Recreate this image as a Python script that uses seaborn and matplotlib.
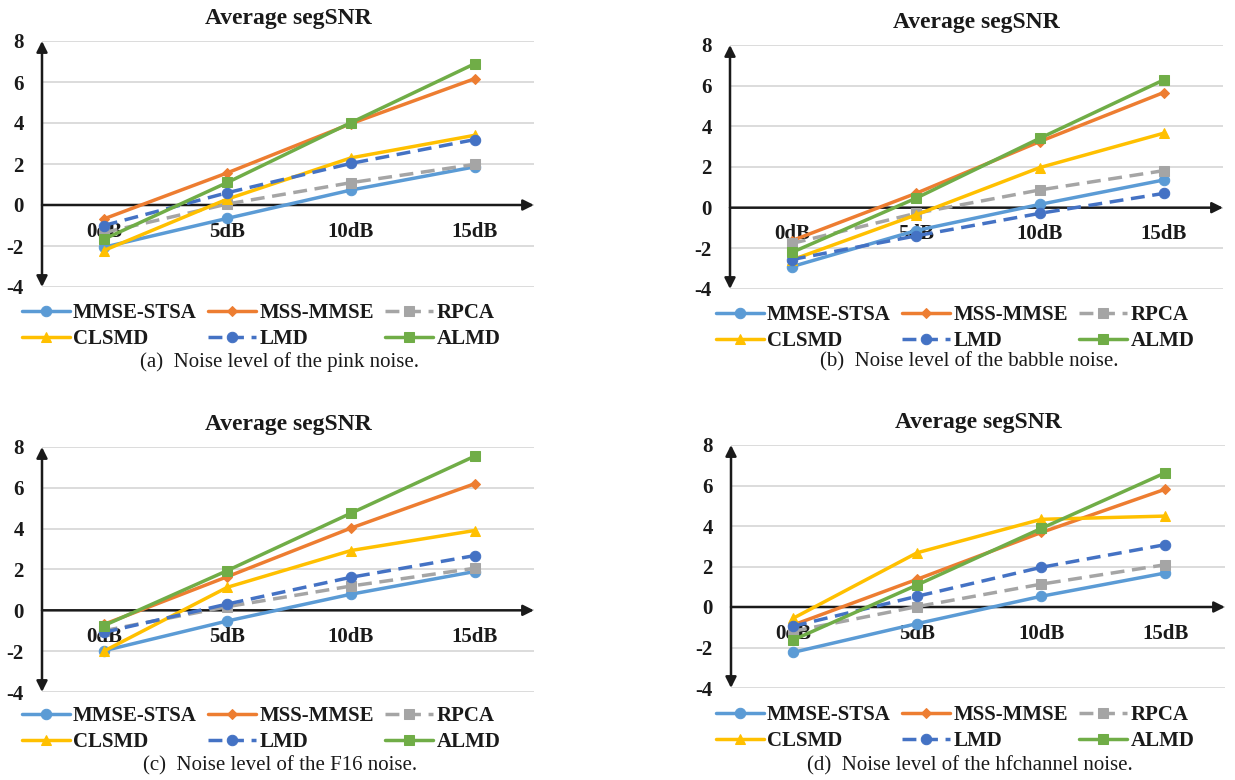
import matplotlib
matplotlib.use("Agg")
import matplotlib.pyplot as plt
from matplotlib.font_manager import FontProperties
import seaborn as sns
import pandas as pd

sns.set_theme(style="white")
plt.rcParams['font.family'] = ['Liberation Serif', 'DejaVu Serif']

# ---------------- data ----------------
categories = ["0dB", "5dB", "10dB", "15dB"]
methods = ["MMSE-STSA", "MSS-MMSE", "RPCA", "CLSMD", "LMD", "ALMD"]
y_ticks = [-4, -2, 0, 2, 4, 6, 8]

pink_mmse_stsa = [-2.06, -0.65, 0.73, 1.86]
pink_mss_mmse = [-0.68, 1.57, 3.97, 6.16]
pink_rpca = [-1.35, 0.05, 1.09, 1.98]
pink_clsmd = [-2.22, 0.29, 2.30, 3.40]
pink_lmd = [-1.00, 0.60, 2.03, 3.19]
pink_almd = [-1.67, 1.10, 4.02, 6.89]

babble_mmse_stsa = [-2.90, -1.13, 0.16, 1.36]
babble_mss_mmse = [-1.62, 0.70, 3.25, 5.66]
babble_rpca = [-1.76, -0.28, 0.87, 1.82]
babble_clsmd = [-2.57, -0.36, 1.97, 3.66]
babble_lmd = [-2.55, -1.39, -0.28, 0.70]
babble_almd = [-2.20, 0.46, 3.41, 6.28]

f16_mmse_stsa = [-1.98, -0.52, 0.79, 1.90]
f16_mss_mmse = [-0.69, 1.65, 4.03, 6.20]
f16_rpca = [-1.00, 0.18, 1.19, 2.06]
f16_clsmd = [-2.00, 1.13, 2.93, 3.91]
f16_lmd = [-1.08, 0.31, 1.62, 2.68]
f16_almd = [-0.75, 1.95, 4.76, 7.55]

hf_mmse_stsa = [-2.24, -0.82, 0.53, 1.68]
hf_mss_mmse = [-0.89, 1.37, 3.68, 5.82]
hf_rpca = [-1.20, 0.02, 1.13, 2.09]
hf_clsmd = [-0.56, 2.68, 4.33, 4.49]
hf_lmd = [-0.95, 0.53, 1.96, 3.08]
hf_almd = [-1.63, 1.09, 3.88, 6.63]

panel_title = "Average segSNR"
captions = ["(a)  Noise level of the pink noise.",
            "(b)  Noise level of the babble noise.",
            "(c)  Noise level of the F16 noise.",
            "(d)  Noise level of the hfchannel noise."]

panels_data = [
    [pink_mmse_stsa, pink_mss_mmse, pink_rpca, pink_clsmd, pink_lmd, pink_almd],
    [babble_mmse_stsa, babble_mss_mmse, babble_rpca, babble_clsmd, babble_lmd, babble_almd],
    [f16_mmse_stsa, f16_mss_mmse, f16_rpca, f16_clsmd, f16_lmd, f16_almd],
    [hf_mmse_stsa, hf_mss_mmse, hf_rpca, hf_clsmd, hf_lmd, hf_almd],
]

# ---------------- styles ----------------
colors = ["#5B9BD5", "#ED7D31", "#A5A5A5", "#FFC000", "#4472C4", "#70AD47"]
markers = ["o", "D", "s", "^", "o", "s"]
msizes = [7.5, 5, 7, 7.5, 7.5, 7.5]
dashed = [False, False, True, False, True, False]

W, H = 1235, 780
fig = plt.figure(figsize=(W / 100, H / 100), dpi=100)

# pixel boxes: left, right, top, bottom
boxes = [(42, 534, 41, 287), (730, 1223, 45, 289),
         (42, 534, 447, 692), (731, 1225, 445, 688)]
legend_pos = [(22, 326), (716, 328), (22, 729), (716, 728)]
caption_pos = [(280, 362), (969, 362), (280, 766), (970, 766)]

bold15 = FontProperties(family='Liberation Serif', weight='bold', size=15)

for p in range(4):
    l, r, t, b = boxes[p]
    ax = fig.add_axes([l / W, 1 - b / H, (r - l) / W, (b - t) / H])
    ax.set_facecolor("white")
    df = pd.DataFrame({"category": categories})
    for i, m in enumerate(methods):
        df[m] = panels_data[p][i]
    long = df.melt(id_vars="category", var_name="method", value_name="segSNR")
    for i, m in enumerate(methods):
        sub = long[long["method"] == m]
        sns.lineplot(data=sub, x="category", y="segSNR", ax=ax,
                     color=colors[i], marker=markers[i], markersize=msizes[i],
                     markeredgecolor=colors[i], linewidth=2.5,
                     linestyle=(0, (4, 2.2)) if dashed[i] else "-",
                     label=m, zorder=3 + i, sort=False)
    ax.set_xlim(-0.5, 3.48)
    ax.set_ylim(-4, 8)
    ax.set_yticks(y_ticks)
    ax.set_yticklabels([str(v) for v in y_ticks])
    ax.grid(axis="y", color="#D9D9D9", linewidth=1.3, zorder=0)
    ax.grid(axis="x", visible=False)
    for s in ax.spines.values():
        s.set_visible(False)
    ax.spines["bottom"].set_position(("data", 0))
    ax.tick_params(axis="both", length=0)
    ax.tick_params(axis="x", pad=12)
    ax.tick_params(axis="y", pad=13)
    for lab in ax.get_xticklabels() + ax.get_yticklabels():
        lab.set_fontproperties(bold15)
        lab.set_color("#1a1a1a")
    for lab in ax.get_xticklabels():
        lab.set_zorder(20)
    ax.set_xlabel("")
    ax.set_ylabel("")
    # axis arrows
    ax.annotate("", xy=(1.0, 0), xytext=(0.0, 0),
                xycoords=("axes fraction", "data"),
                textcoords=("axes fraction", "data"),
                arrowprops=dict(arrowstyle="-|>", color="#1a1a1a", lw=1.8,
                                mutation_scale=16, shrinkA=0, shrinkB=0),
                zorder=2)
    ax.annotate("", xy=(0.0, 1.0), xytext=(0.0, 0.0),
                xycoords="axes fraction", textcoords="axes fraction",
                arrowprops=dict(arrowstyle="<|-|>", color="#1a1a1a", lw=1.8,
                                mutation_scale=16, shrinkA=0, shrinkB=0),
                zorder=2)
    ax.set_title(panel_title, fontsize=17, fontweight="bold",
                 family="Liberation Serif", pad=12, color="#1a1a1a")

    handles, labels = ax.get_legend_handles_labels()
    ax.get_legend().remove()
    order = [0, 3, 1, 4, 2, 5]
    lx, ly = legend_pos[p]
    fig.legend([handles[k] for k in order], [labels[k] for k in order],
               loc="center left", bbox_to_anchor=(lx / W, 1 - ly / H),
               ncol=3, frameon=False, borderpad=0, borderaxespad=0,
               handlelength=2.3, handletextpad=0.15, columnspacing=0.55,
               labelspacing=0.3, prop=bold15, labelcolor="#1a1a1a")
    cx, cy = caption_pos[p]
    fig.text(cx / W, 1 - cy / H, captions[p], ha="center", va="center",
             fontsize=15, family="Liberation Serif", color="#1a1a1a")

fig.savefig("out.png", dpi=100, facecolor="white")
